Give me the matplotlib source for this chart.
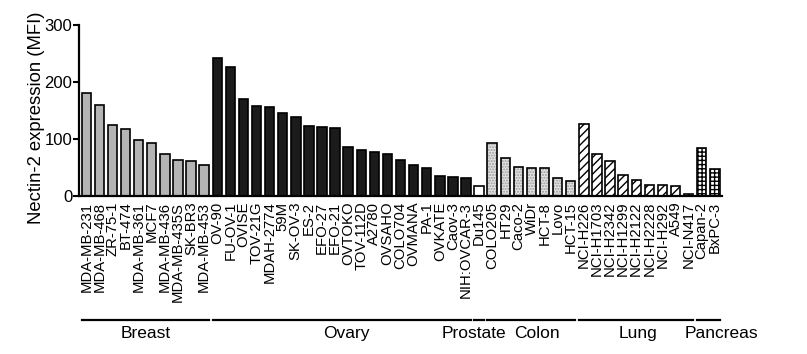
#!/usr/bin/env python3
# coding: utf-8

"""Nectin-2 expression (MFI) across tumour cell lines, grouped by tissue"""

import matplotlib
matplotlib.use("Agg")
import matplotlib.pyplot as plt
from matplotlib.lines import Line2D
from matplotlib.transforms import blended_transform_factory

plt.rcParams["font.family"] = ["Liberation Sans", "DejaVu Sans"]
plt.rcParams["hatch.linewidth"] = 1.0

breast = ["MDA-MB-231", "MDA-MB-468", "ZR-75-1", "BT-474", "MDA-MB-361",
          "MCF7", "MDA-MB-436", "MDA-MB-435S", "SK-BR3", "MDA-MB-453"]
breast_mfi = [181, 159, 124, 117, 99, 94, 74, 63, 62, 54]

ovary = ["OV-90", "FU-OV-1", "OVISE", "TOV-21G", "MDAH-2774", "59M",
         "SK-OV-3", "ES-2", "EFO-27", "EFO-21", "OVTOKO", "TOV-112D",
         "A2780", "OVSAHO", "COLO704", "OVMANA", "PA-1", "OVKATE",
         "Caov-3", "NIH:OVCAR-3"]
ovary_mfi = [243, 226, 171, 158, 156, 146, 138, 123, 122, 119, 86, 81,
             77, 74, 63, 55, 49, 36, 33, 32]

prostate = ["Du145"]
prostate_mfi = [17]

colon = ["COLO205", "HT29", "Caco-2", "WiDr", "HCT-8", "Lovo", "HCT-15"]
colon_mfi = [93, 66, 51, 50, 49, 32, 27]

lung = ["NCI-H226", "NCI-H1703", "NCI-H2342", "NCI-H1299", "NCI-H2122",
        "NCI-H2228", "NCI-H292", "A549", "NCI-N417"]
lung_mfi = [126, 74, 62, 37, 29, 20, 20, 17, 3]

pancreas = ["Capan-2", "BxPC-3"]
pancreas_mfi = [84, 47]

groups = ["Breast", "Ovary", "Prostate", "Colon", "Lung", "Pancreas"]
group_lines = [breast, ovary, prostate, colon, lung, pancreas]
group_mfi = [breast_mfi, ovary_mfi, prostate_mfi, colon_mfi, lung_mfi, pancreas_mfi]

# fill, hatch, hatch colour per tissue
styles = {
    "Breast":   ("#b4b4b4", None, "black"),
    "Ovary":    ("#1b1b1b", None, "black"),
    "Prostate": ("white", None, "black"),
    "Colon":    ("#e4e4e4", "......", "#9a9a9a"),
    "Lung":     ("white", "////", "black"),
    "Pancreas": ("white", "++++", "black"),
}
# nudge of the tissue names relative to the group centre (bar units)
label_shift = [0, 0.4, -0.4, 0.45, 0.15, 1.0]

width = 0.72
fig = plt.figure(figsize=(8.07, 3.54), dpi=100)
ax = fig.add_axes([0.098, 0.446, 0.797, 0.483])

names = []
spans = []
x0 = 0
for g, lines, vals in zip(groups, group_lines, group_mfi):
    xs = list(range(x0, x0 + len(lines)))
    fc, hatch, hc = styles[g]
    if hatch:
        ax.bar(xs, vals, width, color=fc, hatch=hatch, edgecolor=hc, linewidth=0)
        ax.bar(xs, vals, width, fill=False, edgecolor="black", linewidth=1.2)
    else:
        ax.bar(xs, vals, width, color=fc, edgecolor="black", linewidth=1.2)
    names += lines
    spans.append((xs[0] - width / 2, xs[-1] + width / 2))
    x0 += len(lines)

ax.set_xlim(-0.55, x0 - 1 + 0.57)
ax.set_ylim(0, 300)
ax.set_yticks([0, 100, 200, 300])
ax.set_xticks(range(len(names)))
ax.set_xticklabels(names, rotation=90, fontsize=10.7)
ax.tick_params(axis="x", length=0, pad=4)
ax.tick_params(axis="y", length=4, width=1.5, labelsize=12, pad=1)
ax.set_ylabel("Nectin-2 expression (MFI)", fontsize=13.3)
ax.yaxis.set_label_coords(-0.053, 0.46)
for s in ("top", "right"):
    ax.spines[s].set_visible(False)
for s in ("left", "bottom"):
    ax.spines[s].set_linewidth(1.6)

trans = blended_transform_factory(ax.transData, fig.transFigure)
for g, (a, b), dx in zip(groups, spans, label_shift):
    fig.add_artist(Line2D([a, b], [0.096, 0.096], color="black",
                          linewidth=1.6, transform=trans))
    fig.text((a + b) / 2 + dx, 0.058, g, transform=trans, ha="center",
             va="center", fontsize=12.5)

fig.savefig("out.png", dpi=100)
